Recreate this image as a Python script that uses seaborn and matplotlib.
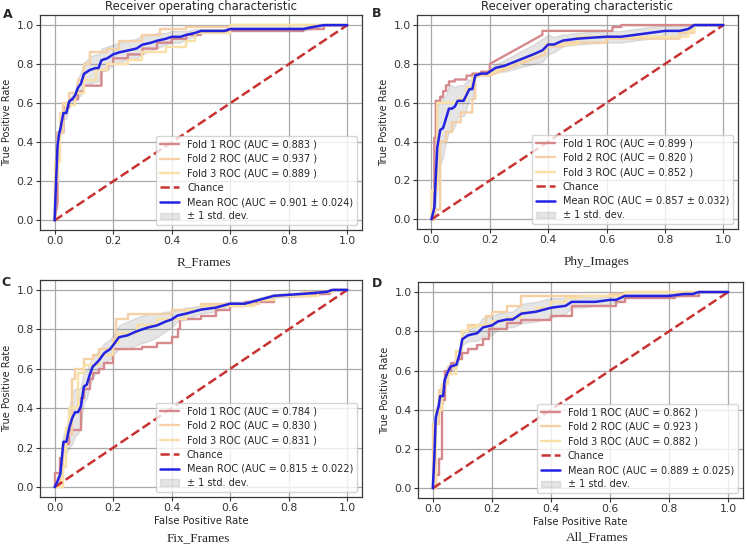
import numpy as np
import pandas as pd
import matplotlib
matplotlib.use("Agg")
import matplotlib.pyplot as plt
import seaborn as sns

sns.set_theme(style="whitegrid", rc={
    "grid.color": "#a9a9a9", "grid.linewidth": 0.9,
    "axes.edgecolor": "#3a3a3a", "axes.linewidth": 0.9,
    "xtick.color": "#333333", "ytick.color": "#333333",
    "xtick.bottom": True, "ytick.left": True,
    "xtick.major.size": 3, "ytick.major.size": 3,
})
plt.rcParams["font.family"] = ["DejaVu Sans"]

# ---- panel A : R_Frames ----
a_f1x = [0, 0.01, 0.01, 0.03, 0.03, 0.05, 0.05, 0.08, 0.08, 0.10, 0.10, 0.12, 0.12, 0.16, 0.16, 0.18, 0.18, 0.20, 0.20, 0.25, 0.25, 0.30, 0.30, 0.35, 0.35, 0.40, 0.40, 0.45, 0.45, 0.50, 0.50, 0.85, 0.85, 0.92, 0.92, 1.0]
a_f1y = [0, 0.09, 0.45, 0.45, 0.58, 0.58, 0.62, 0.62, 0.66, 0.66, 0.69, 0.69, 0.69, 0.69, 0.77, 0.77, 0.80, 0.80, 0.83, 0.83, 0.85, 0.85, 0.88, 0.88, 0.91, 0.91, 0.93, 0.93, 0.95, 0.95, 0.97, 0.97, 0.98, 0.98, 1.0, 1.0]
a_f2x = [0, 0, 0.01, 0.01, 0.03, 0.03, 0.05, 0.05, 0.08, 0.08, 0.10, 0.10, 0.12, 0.12, 0.18, 0.18, 0.22, 0.22, 0.30, 0.30, 0.36, 0.36, 0.45, 0.45, 0.6, 0.6, 1.0]
a_f2y = [0, 0.2, 0.2, 0.45, 0.45, 0.6, 0.6, 0.65, 0.65, 0.72, 0.72, 0.80, 0.80, 0.86, 0.86, 0.88, 0.88, 0.92, 0.92, 0.95, 0.95, 0.98, 0.98, 0.99, 0.99, 1.0, 1.0]
a_f3x = [0, 0, 0.02, 0.02, 0.04, 0.04, 0.07, 0.07, 0.10, 0.10, 0.14, 0.14, 0.18, 0.18, 0.25, 0.25, 0.30, 0.30, 0.38, 0.38, 0.45, 0.45, 0.48, 0.48, 0.6, 0.6, 1.0]
a_f3y = [0, 0.3, 0.3, 0.55, 0.55, 0.59, 0.59, 0.65, 0.65, 0.72, 0.72, 0.77, 0.77, 0.80, 0.80, 0.82, 0.82, 0.86, 0.86, 0.89, 0.89, 0.92, 0.92, 0.96, 0.96, 1.0, 1.0]
a_mx = [0, 0.005, 0.01, 0.015, 0.02, 0.03, 0.04, 0.05, 0.06, 0.07, 0.08, 0.09, 0.10, 0.11, 0.12, 0.14, 0.15, 0.16, 0.18, 0.20, 0.22, 0.25, 0.28, 0.30, 0.33, 0.35, 0.38, 0.40, 0.43, 0.45, 0.48, 0.50, 0.55, 0.58, 0.60, 0.70, 0.80, 0.85, 0.88, 0.92, 1.0]
a_my = [0, 0.20, 0.38, 0.44, 0.47, 0.55, 0.55, 0.61, 0.62, 0.64, 0.68, 0.70, 0.75, 0.76, 0.77, 0.78, 0.78, 0.82, 0.83, 0.85, 0.86, 0.87, 0.88, 0.90, 0.91, 0.92, 0.93, 0.94, 0.94, 0.95, 0.96, 0.97, 0.97, 0.97, 0.98, 0.98, 0.98, 0.98, 0.99, 1.0, 1.0]
a_std = [0, 0.05, 0.04, 0.03, 0.03, 0.03, 0.03, 0.02, 0.02, 0.03, 0.05, 0.06, 0.06, 0.06, 0.07, 0.07, 0.07, 0.06, 0.06, 0.05, 0.05, 0.05, 0.05, 0.05, 0.04, 0.04, 0.03, 0.03, 0.03, 0.02, 0.02, 0.01, 0.01, 0.01, 0.01, 0.01, 0.01, 0.01, 0.01, 0, 0]
a_auc = ["0.883", "0.937", "0.889", "0.901", "0.024"]

# ---- panel B : Phy_Images ----
b_f1x = [0, 0.01, 0.01, 0.015, 0.015, 0.03, 0.03, 0.04, 0.04, 0.05, 0.05, 0.06, 0.06, 0.08, 0.08, 0.12, 0.12, 0.14, 0.14, 0.17, 0.17, 0.20, 0.20, 0.38, 0.38, 0.62, 0.62, 0.65, 0.65, 1.0]
b_f1y = [0, 0, 0.42, 0.42, 0.61, 0.61, 0.63, 0.63, 0.66, 0.66, 0.69, 0.69, 0.71, 0.71, 0.72, 0.72, 0.74, 0.74, 0.75, 0.75, 0.76, 0.76, 0.80, 0.95, 0.97, 0.97, 0.99, 0.99, 1.0, 1.0]
b_f2x = [0, 0.01, 0.01, 0.03, 0.03, 0.05, 0.05, 0.07, 0.07, 0.10, 0.10, 0.14, 0.14, 0.15, 0.15, 0.20, 0.39, 0.39, 0.45, 0.45, 0.60, 0.60, 0.85, 0.85, 0.90, 0.90, 1.0]
b_f2y = [0, 0, 0.05, 0.05, 0.40, 0.40, 0.45, 0.45, 0.50, 0.50, 0.55, 0.55, 0.62, 0.62, 0.74, 0.74, 0.85, 0.89, 0.89, 0.91, 0.91, 0.93, 0.93, 0.96, 0.96, 1.0, 1.0]
b_f3x = [0, 0, 0.02, 0.02, 0.05, 0.05, 0.09, 0.09, 0.12, 0.12, 0.14, 0.14, 0.20, 0.39, 0.39, 0.50, 0.50, 0.88, 0.88, 0.90, 0.90, 1.0]
b_f3y = [0, 0.15, 0.15, 0.60, 0.60, 0.60, 0.60, 0.62, 0.62, 0.68, 0.68, 0.73, 0.75, 0.87, 0.90, 0.90, 0.94, 0.94, 0.97, 0.97, 1.0, 1.0]
b_mx = [0, 0.005, 0.01, 0.015, 0.02, 0.03, 0.04, 0.05, 0.06, 0.07, 0.08, 0.09, 0.10, 0.11, 0.12, 0.13, 0.14, 0.15, 0.17, 0.19, 0.20, 0.22, 0.25, 0.30, 0.35, 0.38, 0.40, 0.42, 0.45, 0.50, 0.55, 0.60, 0.65, 0.70, 0.75, 0.80, 0.85, 0.88, 0.90, 1.0]
b_my = [0, 0.03, 0.06, 0.22, 0.37, 0.46, 0.47, 0.52, 0.57, 0.57, 0.58, 0.61, 0.61, 0.61, 0.64, 0.67, 0.67, 0.74, 0.75, 0.75, 0.76, 0.78, 0.79, 0.82, 0.85, 0.87, 0.90, 0.90, 0.92, 0.93, 0.935, 0.94, 0.94, 0.95, 0.96, 0.97, 0.97, 0.98, 1.0, 1.0]
b_std = [0, 0.03, 0.05, 0.15, 0.2, 0.18, 0.15, 0.12, 0.12, 0.12, 0.10, 0.08, 0.08, 0.08, 0.07, 0.05, 0.05, 0.01, 0.01, 0.01, 0.02, 0.02, 0.03, 0.04, 0.05, 0.06, 0.05, 0.04, 0.03, 0.03, 0.03, 0.03, 0.03, 0.03, 0.03, 0.03, 0.03, 0.02, 0, 0]
b_auc = ["0.899", "0.820", "0.852", "0.857", "0.032"]

# ---- panel C : Fix_Frames ----
c_f1x = [0, 0, 0.02, 0.02, 0.03, 0.03, 0.05, 0.05, 0.09, 0.09, 0.10, 0.10, 0.12, 0.12, 0.13, 0.13, 0.15, 0.15, 0.17, 0.17, 0.20, 0.20, 0.30, 0.30, 0.35, 0.35, 0.40, 0.40, 0.42, 0.42, 0.43, 0.43, 0.50, 0.50, 0.55, 0.55, 0.60, 0.60, 0.65, 0.65, 0.75, 0.75, 0.88, 0.88, 0.94, 0.94, 1.0]
c_f1y = [0, 0.07, 0.07, 0.15, 0.15, 0.22, 0.22, 0.29, 0.29, 0.45, 0.45, 0.50, 0.50, 0.55, 0.55, 0.58, 0.58, 0.60, 0.60, 0.63, 0.63, 0.70, 0.70, 0.71, 0.71, 0.73, 0.73, 0.76, 0.76, 0.80, 0.80, 0.85, 0.85, 0.87, 0.87, 0.90, 0.90, 0.92, 0.92, 0.94, 0.94, 0.97, 0.97, 0.98, 0.98, 1.0, 1.0]
c_f2x = [0, 0.02, 0.02, 0.03, 0.03, 0.04, 0.04, 0.06, 0.06, 0.07, 0.07, 0.10, 0.10, 0.13, 0.13, 0.15, 0.15, 0.20, 0.20, 0.21, 0.21, 0.25, 0.25, 0.40, 0.40, 0.50, 0.50, 0.70, 0.70, 0.75, 0.75, 0.85, 0.85, 0.95, 0.95, 1.0]
c_f2y = [0, 0, 0.05, 0.05, 0.20, 0.20, 0.27, 0.27, 0.55, 0.55, 0.60, 0.60, 0.65, 0.65, 0.67, 0.67, 0.70, 0.70, 0.75, 0.75, 0.85, 0.85, 0.88, 0.88, 0.90, 0.90, 0.93, 0.93, 0.95, 0.95, 0.97, 0.97, 0.99, 0.99, 1.0, 1.0]
c_f3x = [0, 0.03, 0.03, 0.04, 0.04, 0.05, 0.05, 0.08, 0.08, 0.10, 0.10, 0.15, 0.15, 0.20, 0.20, 0.22, 0.22, 0.28, 0.28, 0.35, 0.35, 0.45, 0.45, 0.50, 0.50, 0.68, 0.68, 0.75, 0.75, 0.90, 0.90, 0.95, 0.95, 1.0]
c_f3y = [0, 0, 0.10, 0.10, 0.30, 0.30, 0.40, 0.40, 0.58, 0.58, 0.62, 0.62, 0.67, 0.67, 0.73, 0.73, 0.78, 0.78, 0.82, 0.82, 0.85, 0.85, 0.90, 0.90, 0.92, 0.92, 0.95, 0.95, 0.97, 0.97, 0.99, 0.99, 1.0, 1.0]
c_mx = [0, 0.01, 0.02, 0.025, 0.03, 0.04, 0.05, 0.06, 0.07, 0.08, 0.09, 0.10, 0.11, 0.12, 0.13, 0.15, 0.17, 0.19, 0.20, 0.22, 0.25, 0.28, 0.30, 0.32, 0.35, 0.38, 0.40, 0.42, 0.45, 0.50, 0.55, 0.60, 0.65, 0.70, 0.75, 0.85, 0.93, 0.95, 1.0]
c_my = [0, 0.03, 0.07, 0.15, 0.23, 0.23, 0.30, 0.35, 0.38, 0.38, 0.41, 0.51, 0.52, 0.57, 0.61, 0.64, 0.68, 0.70, 0.72, 0.76, 0.77, 0.79, 0.80, 0.81, 0.82, 0.84, 0.85, 0.87, 0.88, 0.90, 0.91, 0.93, 0.93, 0.95, 0.97, 0.98, 0.99, 1.0, 1.0]
c_std = [0, 0.02, 0.03, 0.03, 0.04, 0.06, 0.10, 0.13, 0.12, 0.11, 0.10, 0.08, 0.07, 0.06, 0.05, 0.05, 0.05, 0.05, 0.05, 0.06, 0.07, 0.07, 0.07, 0.07, 0.06, 0.05, 0.04, 0.03, 0.03, 0.02, 0.02, 0.01, 0.01, 0.01, 0.01, 0.01, 0.01, 0, 0]
c_auc = ["0.784", "0.830", "0.831", "0.815", "0.022"]

# ---- panel D : All_Frames ----
d_f1x = [0, 0.01, 0.01, 0.02, 0.02, 0.03, 0.03, 0.04, 0.04, 0.06, 0.06, 0.08, 0.08, 0.10, 0.10, 0.12, 0.12, 0.15, 0.15, 0.17, 0.17, 0.19, 0.19, 0.25, 0.25, 0.30, 0.30, 0.40, 0.40, 0.47, 0.47, 0.62, 0.62, 0.65, 0.65, 0.82, 0.82, 0.90, 0.90, 1.0]
d_f1y = [0, 0, 0.07, 0.07, 0.15, 0.15, 0.45, 0.45, 0.60, 0.60, 0.64, 0.64, 0.66, 0.66, 0.69, 0.69, 0.71, 0.71, 0.73, 0.73, 0.76, 0.76, 0.81, 0.81, 0.84, 0.84, 0.86, 0.86, 0.88, 0.88, 0.93, 0.93, 0.95, 0.95, 0.97, 0.97, 0.98, 0.98, 1.0, 1.0]
d_f2x = [0, 0, 0.02, 0.02, 0.03, 0.03, 0.05, 0.05, 0.08, 0.08, 0.10, 0.10, 0.12, 0.12, 0.18, 0.18, 0.20, 0.20, 0.25, 0.25, 0.30, 0.30, 0.60, 0.60, 0.65, 0.65, 1.0]
d_f2y = [0, 0.33, 0.33, 0.50, 0.50, 0.53, 0.53, 0.62, 0.62, 0.70, 0.70, 0.80, 0.80, 0.83, 0.83, 0.88, 0.88, 0.90, 0.90, 0.93, 0.93, 0.98, 0.98, 0.99, 0.99, 1.0, 1.0]
d_f3x = [0, 0.01, 0.01, 0.03, 0.03, 0.05, 0.05, 0.08, 0.08, 0.10, 0.10, 0.12, 0.12, 0.15, 0.15, 0.20, 0.20, 0.25, 0.25, 0.30, 0.30, 0.35, 0.35, 0.40, 0.40, 0.45, 0.45, 0.50, 0.50, 0.65, 0.65, 1.0]
d_f3y = [0, 0, 0.40, 0.40, 0.53, 0.53, 0.58, 0.58, 0.70, 0.70, 0.80, 0.80, 0.82, 0.82, 0.83, 0.83, 0.85, 0.85, 0.87, 0.87, 0.90, 0.90, 0.92, 0.92, 0.95, 0.95, 0.97, 0.97, 0.98, 0.98, 1.0, 1.0]
d_mx = [0, 0.005, 0.01, 0.02, 0.025, 0.035, 0.04, 0.05, 0.06, 0.08, 0.09, 0.10, 0.11, 0.12, 0.15, 0.17, 0.20, 0.22, 0.25, 0.27, 0.30, 0.35, 0.40, 0.45, 0.47, 0.50, 0.55, 0.60, 0.62, 0.65, 0.70, 0.80, 0.85, 0.88, 0.90, 1.0]
d_my = [0, 0.15, 0.36, 0.42, 0.47, 0.47, 0.55, 0.59, 0.62, 0.63, 0.68, 0.76, 0.77, 0.78, 0.79, 0.82, 0.83, 0.85, 0.86, 0.86, 0.89, 0.90, 0.92, 0.93, 0.95, 0.95, 0.95, 0.96, 0.96, 0.98, 0.98, 0.98, 0.99, 0.99, 1.0, 1.0]
d_std = [0, 0.05, 0.04, 0.04, 0.04, 0.04, 0.04, 0.03, 0.02, 0.02, 0.02, 0.03, 0.03, 0.03, 0.04, 0.05, 0.05, 0.04, 0.04, 0.04, 0.05, 0.05, 0.05, 0.04, 0.03, 0.03, 0.02, 0.02, 0.01, 0.01, 0.01, 0.01, 0.01, 0.01, 0, 0]
d_auc = ["0.862", "0.923", "0.882", "0.889", "0.025"]

fold_colors = ["#d5898c", "#f5cfa6", "#f9e0a6"]
mean_color = "#2323e0"
chance_color = "#c83232"

panels = [
    ("A", "R_Frames", [(a_f1x, a_f1y), (a_f2x, a_f2y), (a_f3x, a_f3y)], a_mx, a_my, a_std, a_auc),
    ("B", "Phy_Images", [(b_f1x, b_f1y), (b_f2x, b_f2y), (b_f3x, b_f3y)], b_mx, b_my, b_std, b_auc),
    ("C", "Fix_Frames", [(c_f1x, c_f1y), (c_f2x, c_f2y), (c_f3x, c_f3y)], c_mx, c_my, c_std, c_auc),
    ("D", "All_Frames", [(d_f1x, d_f1y), (d_f2x, d_f2y), (d_f3x, d_f3y)], d_mx, d_my, d_std, d_auc),
]

# axes rectangles in figure fractions
rects = [
    [0.0535, 0.580, 0.431, 0.392],
    [0.558, 0.582, 0.430, 0.390],
    [0.0535, 0.093, 0.431, 0.396],
    [0.5596, 0.091, 0.435, 0.394],
]
letter_pos = [(0.004, 0.985), (0.498, 0.987), (0.002, 0.497), (0.498, 0.495)]
sub_pos = [(0.273, 0.522), (0.799, 0.522), (0.265, 0.018), (0.800, 0.020)]

fig = plt.figure(figsize=(7.47, 5.48), dpi=100)

for i, (letter, name, folds, mx, my, sd, auc) in enumerate(panels):
    ax = fig.add_axes(rects[i])
    for k, (fx, fy) in enumerate(folds):
        df = pd.DataFrame({"fpr": fx, "tpr": fy})
        sns.lineplot(data=df, x="fpr", y="tpr", ax=ax, sort=False, estimator=None,
                     color=fold_colors[k], lw=1.7,
                     label=f"Fold {k + 1} ROC (AUC = {auc[k]} )")
    ax.plot([0, 1], [0, 1], linestyle="--", lw=1.8, color=chance_color, label="Chance")
    mdf = pd.DataFrame({"fpr": mx, "tpr": my})
    sns.lineplot(data=mdf, x="fpr", y="tpr", ax=ax, sort=False, estimator=None,
                 color=mean_color, lw=1.8,
                 label=f"Mean ROC (AUC = {auc[3]} \u00b1 {auc[4]})")
    mv = np.array(my)
    sv = np.array(sd)
    ax.fill_between(mx, np.maximum(mv - sv, 0), np.minimum(mv + sv, 1),
                    color="grey", alpha=0.2, label="\u00b1 1 std. dev.")

    ax.set_xlim(-0.05, 1.05)
    ax.set_ylim(-0.05, 1.05)
    ax.set_xticks([0, 0.2, 0.4, 0.6, 0.8, 1.0])
    ax.set_yticks([0, 0.2, 0.4, 0.6, 0.8, 1.0])
    ax.tick_params(labelsize=7.8, length=3, width=0.8, color="#333333", pad=1.5)
    ax.set_ylabel("True Positive Rate", fontsize=7, labelpad=3)
    if i < 2:
        ax.set_xlabel("")
        ax.set_title("Receiver operating characteristic", fontsize=8.3, pad=4)
    else:
        ax.set_xlabel("False Positive Rate", fontsize=7.3, labelpad=2)
    ax.legend(loc="lower right", fontsize=7, framealpha=0.8, borderpad=0.4,
              labelspacing=0.45, handlelength=2.0)

    fig.text(letter_pos[i][0], letter_pos[i][1], letter, fontsize=9, fontweight="bold",
             ha="left", va="top")
    fig.text(sub_pos[i][0], sub_pos[i][1], name, fontsize=9.5, family="Liberation Serif",
             ha="center", va="center")

fig.savefig("out.png", dpi=100)
